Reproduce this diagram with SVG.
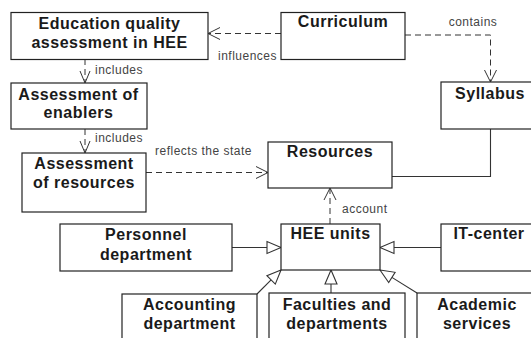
<svg xmlns="http://www.w3.org/2000/svg" width="531" height="338" viewBox="0 0 531 338">
<style>
.box{fill:#fff;stroke:#222;stroke-width:1.2}
.t{font-family:"Liberation Sans",Arial,sans-serif;font-weight:bold;font-size:16px;letter-spacing:0.5px;fill:#1a1a1a;text-anchor:middle}
.l{font-family:"Liberation Sans",Arial,sans-serif;font-size:12px;letter-spacing:0.5px;fill:#444}
.dash{fill:none;stroke:#333;stroke-width:1;stroke-dasharray:6,4}
.solid{fill:none;stroke:#333;stroke-width:1.1}
.v{fill:none;stroke:#333;stroke-width:1}
.tri{fill:#fff;stroke:#333;stroke-width:1.1}
</style>
<rect width="531" height="338" fill="#fff"/>
<g id="connectors">
<path class="dash" d="M281,33.5 H209"/>
<path class="v" d="M220,27.5 L208,33.5 L220,39.5"/>
<path class="dash" d="M405,35 H490.5 V81"/>
<path class="v" d="M484.5,70 L490.5,82 L496.5,70"/>
<path class="dash" d="M85,59 V82"/>
<path class="v" d="M80,71 L85,83 L90,71"/>
<path class="dash" d="M85,129 V152"/>
<path class="v" d="M80,141 L85,153 L90,141"/>
<path class="dash" d="M146,172.5 H267"/>
<path class="v" d="M256,166.5 L268,172.5 L256,178.5"/>
<path class="solid" d="M490.5,129 V176.5 H392"/>
<path class="dash" d="M330,224 V189"/>
<path class="v" d="M324,200 L330,188 L336,200"/>
<path class="solid" d="M232,247.5 H267"/>
<path class="tri" d="M281,247.5 L267,241.5 L267,253.5 Z"/>
<path class="solid" d="M441,247.5 H394"/>
<path class="tri" d="M380,247.5 L394,241.5 L394,253.5 Z"/>
<path class="solid" d="M257,294 L271.1,279.9"/>
<path class="tri" d="M281,270 L275.3,284.1 L266.9,275.7 Z"/>
<path class="solid" d="M331,293 V284"/>
<path class="tri" d="M331,270 L325,284 L337,284 Z"/>
<path class="solid" d="M417,293 L391.9,277.4"/>
<path class="tri" d="M380,270 L395.1,272.3 L388.7,282.5 Z"/>
<text class="l" x="218" y="60">influences</text>
<text class="l" x="473" y="25.5" text-anchor="middle">contains</text>
<text class="l" x="95" y="73.5">includes</text>
<text class="l" x="95" y="142">includes</text>
<text class="l" x="155" y="155">reflects the state</text>
<text class="l" x="342" y="213">account</text>
</g>
<g id="edu">
<rect class="box" x="11" y="12.5" width="197" height="47"/>
<text class="t" x="109.5" y="28.5">Education quality</text>
<text class="t" x="109.5" y="47.5">assessment in HEE</text>
</g>
<g id="curriculum">
<rect class="box" x="281" y="12.5" width="124" height="47"/>
<text class="t" x="343" y="27">Curriculum</text>
</g>
<g id="syllabus">
<rect class="box" x="441" y="82" width="98" height="47"/>
<text class="t" x="490" y="99">Syllabus</text>
</g>
<g id="enablers">
<rect class="box" x="11" y="83" width="136" height="46"/>
<text class="t" x="78.5" y="100">Assessment of</text>
<text class="t" x="78.5" y="118">enablers</text>
</g>
<g id="assess-resources">
<rect class="box" x="22" y="153" width="124" height="59"/>
<text class="t" x="84" y="168.5">Assessment</text>
<text class="t" x="84" y="187.5">of resources</text>
</g>
<g id="resources">
<rect class="box" x="268" y="142" width="124" height="46"/>
<text class="t" x="330" y="157">Resources</text>
</g>
<g id="personnel">
<rect class="box" x="60" y="224" width="172" height="47"/>
<text class="t" x="146" y="240">Personnel</text>
<text class="t" x="146" y="259.5">department</text>
</g>
<g id="hee-units">
<rect class="box" x="281" y="224" width="99" height="46"/>
<text class="t" x="330.5" y="238.5">HEE units</text>
</g>
<g id="it-center">
<rect class="box" x="441" y="224" width="98" height="47"/>
<text class="t" x="489" y="238.5">IT-center</text>
</g>
<g id="accounting">
<rect class="box" x="122" y="294" width="135" height="60"/>
<text class="t" x="189.5" y="310">Accounting</text>
<text class="t" x="189.5" y="328.5">department</text>
</g>
<g id="faculties">
<rect class="box" x="269" y="293" width="136" height="60"/>
<text class="t" x="337" y="310">Faculties and</text>
<text class="t" x="337" y="328.5">departments</text>
</g>
<g id="academic">
<rect class="box" x="417" y="293" width="120" height="60"/>
<text class="t" x="477" y="310">Academic</text>
<text class="t" x="477" y="328.5">services</text>
</g>
</svg>
